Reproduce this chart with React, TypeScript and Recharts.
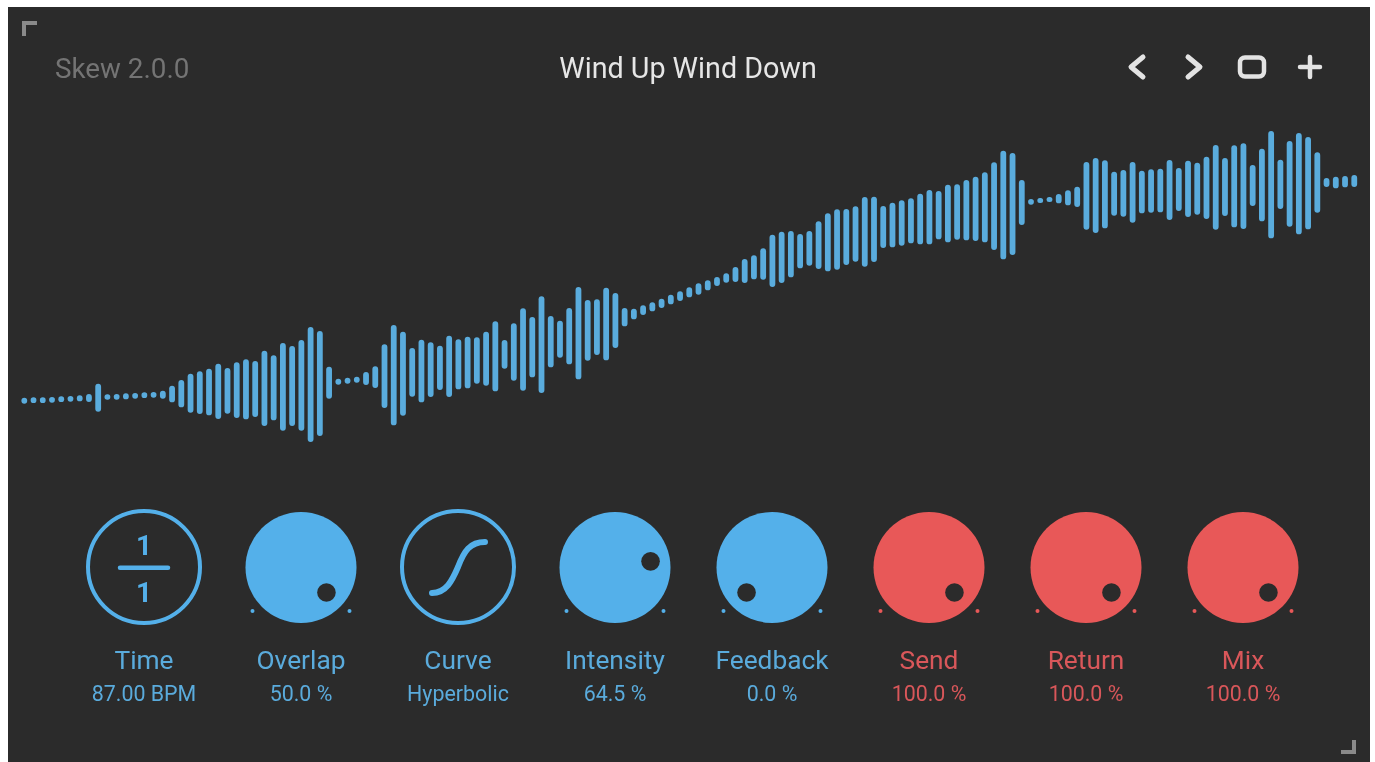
import { BarChart, Bar, XAxis, YAxis } from "recharts";

// waveform levels, one pair per bar (0 is the bottom of the wave area)
const waveHigh = [
  82.3, 82.7, 82.7, 83, 83.7, 84, 84.7, 86, 96.3, 85.7, 86, 86.7, 87, 87.7, 88, 89.3, 94.3, 100,
  106.3, 108.7, 111.3, 116.3, 112, 117.7, 120.7, 119, 129.3, 124.7, 137, 134, 140, 153, 149, 113.3,
  101.3, 102.3, 103.3, 108, 113.7, 135.7, 155, 148.3, 132, 140.3, 137.7, 134.3, 144.3, 140.7, 143.3,
  142.7, 148.3, 158.7, 140, 156.7, 171.7, 163, 183.7, 164, 159.3, 172, 193, 180, 180.7, 192.3, 187,
  172, 171.3, 174.7, 177.7, 181.3, 185.3, 188.7, 192.7, 196.7, 199.7, 203, 206.7, 213, 221, 224.7,
  231.7, 245.3, 248.3, 249, 246, 249, 258.7, 266.7, 270.7, 271, 273.7, 283, 283.3, 274, 277.3, 279.7,
  281.7, 286.3, 290, 289, 295.3, 295.7, 300, 303.3, 307.7, 317.7, 329.3, 327, 300, 281, 282, 283, 286,
  289.7, 293.3, 318, 322, 319.7, 308.3, 310, 318, 309.3, 310.7, 311.3, 320, 312, 319.3, 317.3, 323.3,
  335, 322, 334.7, 336.7, 315, 331.3, 349, 320.3, 339, 347, 343, 327.7, 302, 303.3, 304, 305,
];
const waveLow = [
  76.3, 77, 77, 77.3, 78, 78.3, 78.7, 78, 68.3, 80.3, 80.3, 80.7, 81.3, 82, 82.3, 81.3, 77.7, 72.7,
  67.3, 66, 64.7, 61, 66.3, 62, 60.7, 63, 54, 59.7, 49.3, 54, 49.3, 38, 44, 81.3, 95.3, 96.3, 97.3, 95,
  92, 72, 54.7, 64.3, 83.3, 77.7, 83, 90, 83, 90.7, 91.7, 96.3, 94.3, 88.7, 111.3, 99.3, 89.3, 102.7,
  87, 112.7, 122.3, 115.7, 100.7, 119.3, 125, 119.7, 132, 153.7, 160.7, 165, 168.7, 172, 175.7, 179,
  182.7, 185.3, 189.7, 194, 197.3, 198, 197, 200.7, 200.3, 193, 197, 202.7, 211.7, 214.3, 211, 208.7,
  210.3, 215, 218.3, 213.3, 218, 232, 232.7, 234.3, 236.7, 235.7, 235.7, 240.7, 237.7, 240.3, 239.7,
  239, 237.7, 230, 220.7, 225, 255, 275.3, 277, 278, 276.7, 274.7, 273, 250.3, 247, 251.7, 264.3,
  263.3, 257.3, 266.7, 267.3, 267.7, 260, 269, 263, 265.3, 261, 250.3, 264, 252.7, 251, 274, 258.7,
  241.7, 271, 253.3, 245.7, 250.7, 267.3, 293, 291.7, 292.7, 293,
];

const knobLabels = ["Time", "Overlap", "Curve", "Intensity", "Feedback", "Send", "Return", "Mix"];
const knobValues = [
  "87.00 BPM",
  "50.0 %",
  "Hyperbolic",
  "64.5 %",
  "0.0 %",
  "100.0 %",
  "100.0 %",
  "100.0 %",
];
// how far each knob is turned, 0 to 1 (Time and Curve are drawn as rings)
const knobTurns = [0, 1, 0, 0.8, 0, 1, 1, 1];

const BLUE = "#54b0ea";
const RED = "#e85858";
const PANEL = "#2b2b2b";
const FONT = "Roboto, sans-serif";

const waveRows = waveHigh.map((high, i) => ({ range: [waveLow[i], high] }));

function Knob({ index }: { index: number }) {
  const cx = 144 + index * 157;
  const cy = 567;
  const color = index >= 5 ? RED : BLUE;
  const textColor = index >= 5 ? "#d9575a" : "#5aabdc";
  const angle = ((knobTurns[index] * 270 - 135) * Math.PI) / 180;

  let face;
  if (index === 0) {
    face = (
      <g>
        <circle cx={cx} cy={cy} r={56} fill="none" stroke={color} strokeWidth={4} />
        <line x1={cx - 24} x2={cx + 24} y1={cy + 0.7} y2={cy + 0.7} stroke={color} strokeWidth={4.5} strokeLinecap="round" />
        <text x={cx} y={cy - 12} textAnchor="middle" fontSize={28} fontWeight={700} fill={color} fontFamily={FONT}>1</text>
        <text x={cx} y={cy + 35} textAnchor="middle" fontSize={28} fontWeight={700} fill={color} fontFamily={FONT}>1</text>
      </g>
    );
  } else if (index === 2) {
    face = (
      <g>
        <circle cx={cx} cy={cy} r={56} fill="none" stroke={color} strokeWidth={4} />
        <path
          d={`M${cx - 26} ${cy + 26} C${cx - 12} ${cy + 26} ${cx - 6} ${cy + 14} ${cx} ${cy} C${cx + 6} ${cy - 16} ${cx + 12} ${cy - 25} ${cx + 27} ${cy - 25}`}
          fill="none"
          stroke={color}
          strokeWidth={6}
          strokeLinecap="round"
        />
      </g>
    );
  } else {
    face = (
      <g>
        <circle cx={cx} cy={cy + 0.5} r={55.5} fill={color} />
        <circle cx={cx + 36 * Math.sin(angle)} cy={cy - 36 * Math.cos(angle)} r={9.3} fill={PANEL} />
        <circle cx={cx - 48.5} cy={cy + 44} r={2} fill={color} />
        <circle cx={cx + 48.5} cy={cy + 44} r={2} fill={color} />
      </g>
    );
  }

  return (
    <g>
      {face}
      <text x={cx} y={669} textAnchor="middle" fontSize={26.3} fill={textColor} fontFamily={FONT}>
        {knobLabels[index]}
      </text>
      <text x={cx} y={701} textAnchor="middle" fontSize={21.4} fill={textColor} fontFamily={FONT}>
        {knobValues[index]}
      </text>
    </g>
  );
}

function Header() {
  const icon = "#e3e3e3";
  const corner = "#8a8a8a";
  return (
    <g>
      <polyline points="24,36 24,23 37,23" fill="none" stroke={corner} strokeWidth={4} />
      <polyline points="1341,752 1354,752 1354,740" fill="none" stroke={corner} strokeWidth={4} />
      <text x={55} y={78} fontSize={27.8} fill="#747474" fontFamily={FONT}>Skew 2.0.0</text>
      <text x={688} y={78} fontSize={28.7} textAnchor="middle" fill="#e6e6e6" fontFamily={FONT}>Wind Up Wind Down</text>
      <polyline points="1143,57 1131,67 1143,77" fill="none" stroke={icon} strokeWidth={5} strokeLinecap="round" strokeLinejoin="round" />
      <polyline points="1188,57 1200,67 1188,77" fill="none" stroke={icon} strokeWidth={5} strokeLinecap="round" strokeLinejoin="round" />
      <rect x={1240} y={57.5} width={24} height={19} rx={5} fill="none" stroke={icon} strokeWidth={4.5} />
      <line x1={1300} x2={1320} y1={67} y2={67} stroke={icon} strokeWidth={4.5} strokeLinecap="round" />
      <line x1={1310} x2={1310} y1={57} y2={77} stroke={icon} strokeWidth={4.5} strokeLinecap="round" />
    </g>
  );
}

export default function App() {
  return (
    <div style={{ position: "absolute", left: 0, top: 0, width: 1375, height: 762, overflow: "hidden", background: "#fff" }}>
      <div style={{ position: "absolute", left: 8, top: 7, width: 1362, height: 755, background: PANEL }} />
      <div style={{ position: "absolute", left: 0, top: 0, width: 1375, height: 762, filter: "blur(0.7px)" }}>
        <div style={{ position: "absolute", left: 0, top: 0 }}>
          <BarChart
            width={1375}
            height={762}
            data={waveRows}
            margin={{ top: 80, right: 16.4, bottom: 282, left: 19.4 }}
          >
            <XAxis hide />
            <YAxis hide domain={[0, 400]} />
            <Bar dataKey="range" fill="#5aacdd" barSize={5.8} radius={2.9} isAnimationActive={false} />
          </BarChart>
        </div>
        <svg width={1375} height={762} style={{ position: "absolute", left: 0, top: 0 }}>
          <Header />
          {knobLabels.map((_, i) => (
            <Knob key={i} index={i} />
          ))}
        </svg>
      </div>
    </div>
  );
}
